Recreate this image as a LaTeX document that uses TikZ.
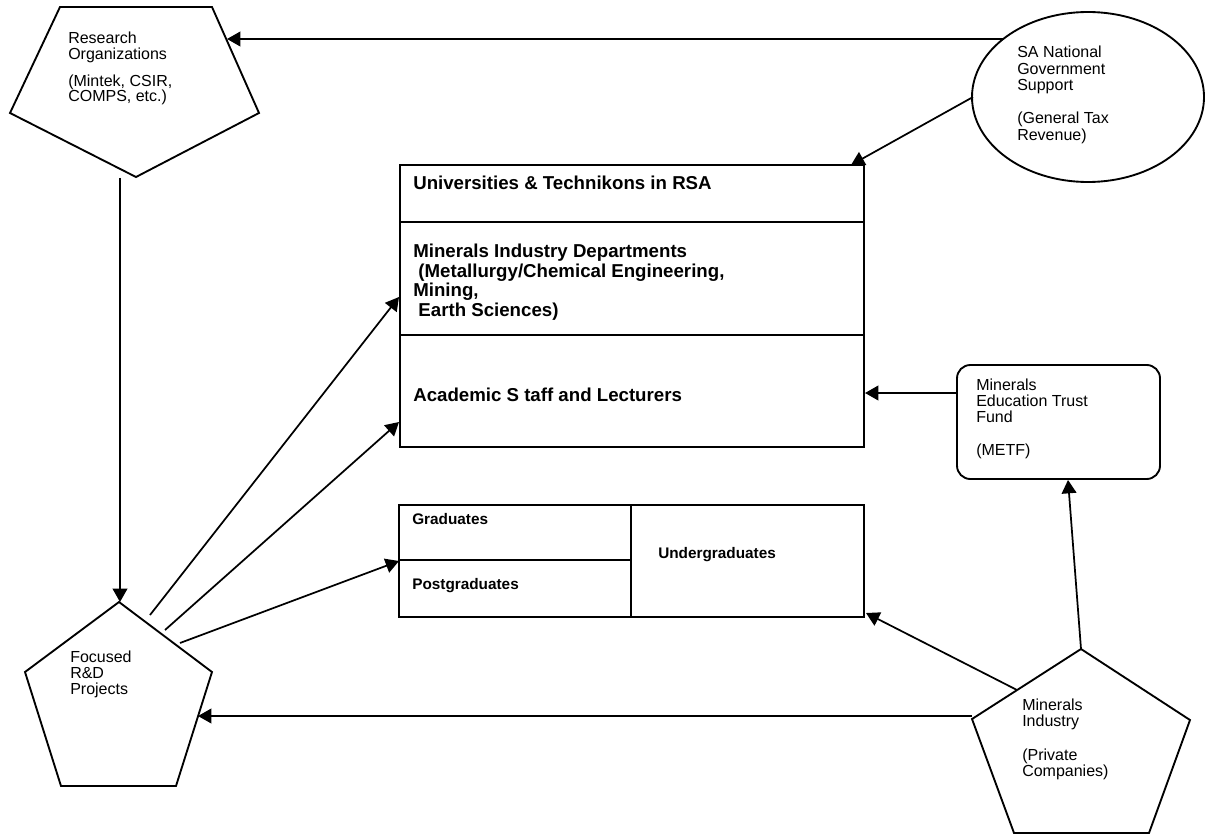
\documentclass[tikz,border=0pt]{standalone}
\usepackage{fontspec}
\setmainfont{Liberation Sans}
\usetikzlibrary{arrows.meta}
\begin{document}
\begin{tikzpicture}[x=0.75pt,y=-0.75pt,
  shapeline/.style={line width=1.4pt, line join=miter},
  conn/.style={line width=1.3pt, -{Triangle[length=10pt,width=11pt]}},
  lbl/.style={anchor=north west, inner sep=0pt, align=left, font=\fontsize{12}{12}\selectfont},
  blbl/.style={anchor=north west, inner sep=0pt, align=left, font=\fontsize{14}{14.6}\selectfont\bfseries},
  slbl/.style={anchor=north west, inner sep=0pt, align=left, font=\fontsize{11.5}{12}\selectfont\bfseries},
]
\useasboundingbox (0,0) rectangle (1205,834);

% ---- shapes ----
% Research organizations (inverted pentagon)
\draw[shapeline] (60,7) -- (212,7) -- (259,113) -- (136,177) -- (10,113) -- cycle;
% Government ellipse
\draw[shapeline] (1088,97) ellipse [x radius=87pt, y radius=63.75pt];
% Universities box
\draw[shapeline] (400,165) rectangle (864,447);
\draw[shapeline] (400,222) -- (864,222);
\draw[shapeline] (400,335) -- (864,335);
% METF rounded box
\draw[shapeline, rounded corners=10pt] (957,365) rectangle (1160,479);
% Students box
\draw[shapeline] (399,505) rectangle (864,617);
\draw[shapeline] (631,505) -- (631,617);
\draw[shapeline] (399,560) -- (631,560);
% Focused R&D pentagon
\draw[shapeline] (119,602) -- (212,672) -- (176,786) -- (61,786) -- (25,672) -- cycle;
% Minerals industry pentagon
\draw[shapeline] (1081,649) -- (1190,720) -- (1149,833) -- (1014,833) -- (972,719) -- cycle;

% ---- texts ----
\node[lbl, font=\fontsize{12}{11.6}\selectfont] (ro) at (68,32) {Research\\Organizations\\[8.6pt](Mintek, CSIR,\\COMPS, etc.)};
\node[lbl, font=\fontsize{12}{12.4}\selectfont] (gov) at (1017,46) {SA National\\Government\\Support\\[12.4pt](General Tax\\Revenue)};
\node[blbl] (uni) at (413,176) {Universities \& Technikons in RSA};
\node[blbl] (dept) at (413,244) {Minerals Industry Departments\\\ (Metallurgy/Chemical Engineering,\\Mining,\\\ Earth Sciences)};
\node[blbl] (acad) at (413,388) {Academic S taff and Lecturers};
\node[lbl] (metf) at (976,379) {Minerals\\Education Trust\\Fund\\[12.75pt](METF)};
\node[slbl] (grad) at (412,513) {Graduates};
\node[slbl] (post) at (412,578) {Postgraduates};
\node[slbl] (under) at (658,547) {Undergraduates};
\node[lbl] (fr) at (70,651) {Focused\\R\&D\\Projects};
\node[lbl] (mi) at (1022,699) {Minerals\\Industry\\[13pt](Private\\Companies)};

% ---- connector end points ----
\coordinate (gov-w1) at (1003,39);
\coordinate (ro-e) at (227,39);
\coordinate (gov-w2) at (973,97);
\coordinate (uni-ne) at (851,165);
\coordinate (ro-s) at (120,178);
\coordinate (fr-n) at (120,602);
\coordinate (fr-a) at (150,615);
\coordinate (fr-b) at (165,630);
\coordinate (fr-c) at (180,643);
\coordinate (dept-w) at (399,297);
\coordinate (acad-w) at (399,422);
\coordinate (grad-w) at (399,561);
\coordinate (mi-w) at (972,716);
\coordinate (fr-e) at (198,716);
\coordinate (mi-nw) at (1017,690);
\coordinate (under-se) at (866,613);
\coordinate (mi-n) at (1081,649);
\coordinate (metf-s) at (1068,480);
\coordinate (metf-w) at (957,393);
\coordinate (acad-e) at (865,393);

% ---- connectors ----
\draw[conn] (gov-w1) -- (ro-e);
\draw[conn] (gov-w2) -- (uni-ne);
\draw[conn] (ro-s) -- (fr-n);
\draw[conn] (fr-a) -- (dept-w);
\draw[conn] (fr-b) -- (acad-w);
\draw[conn] (fr-c) -- (grad-w);
\draw[conn] (mi-w) -- (fr-e);
\draw[conn] (mi-nw) -- (under-se);
\draw[conn] (mi-n) -- (metf-s);
\draw[conn] (metf-w) -- (acad-e);
\end{tikzpicture}
\end{document}
